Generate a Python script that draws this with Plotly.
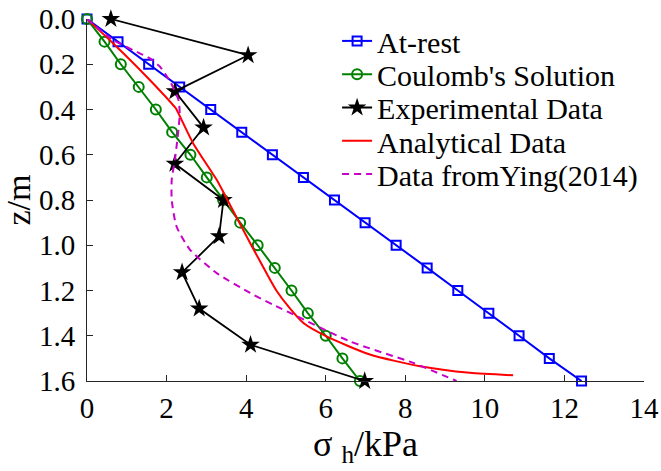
import plotly.graph_objects as go

# Depth levels (m)
z_rest = [0.0, 0.1, 0.2, 0.3, 0.4, 0.5, 0.6, 0.7, 0.8, 0.9, 1.0, 1.1, 1.2, 1.3, 1.4, 1.5, 1.6]
z_exp = [0.0, 0.16, 0.32, 0.48, 0.64, 0.80, 0.96, 1.12, 1.28, 1.44, 1.60]

# Horizontal earth pressure (kPa)
at_rest = [0.0, 0.78, 1.55, 2.33, 3.11, 3.89, 4.66, 5.44, 6.22, 6.99, 7.77, 8.55, 9.32, 10.10, 10.86, 11.62, 12.43]
coulomb = [0.0, 0.44, 0.85, 1.30, 1.73, 2.14, 2.60, 3.01, 3.42, 3.85, 4.29, 4.72, 5.14, 5.55, 6.00, 6.42, 6.86]
experimental = [0.60, 4.05, 2.21, 2.93, 2.21, 3.43, 3.32, 2.39, 2.82, 4.11, 6.98]

analytical_x = [0.0, 0.66, 1.50, 2.21, 2.25, 2.67, 3.26, 3.53, 4.10, 4.51, 4.76, 5.08, 5.44, 6.02, 7.11, 8.37, 9.62, 10.71]
analytical_z = [0.0, 0.108, 0.255, 0.39, 0.40, 0.55, 0.711, 0.80, 0.99, 1.123, 1.20, 1.275, 1.344, 1.403, 1.483, 1.535, 1.564, 1.575]

ying_x = [0.0, 0.66, 1.41, 1.58, 1.83, 2.10, 2.30, 2.33, 2.28, 2.21, 2.13, 2.13, 2.25, 2.59, 3.26, 4.10, 4.68, 5.35, 6.61, 8.20, 9.29]
ying_z = [0.0, 0.093, 0.159, 0.174, 0.21, 0.28, 0.358, 0.42, 0.52, 0.62, 0.71, 0.80, 0.917, 1.02, 1.123, 1.211, 1.263, 1.32, 1.425, 1.52, 1.60]

x_ticks = [0, 2, 4, 6, 8, 10, 12, 14]
y_ticks = [0.0, 0.2, 0.4, 0.6, 0.8, 1.0, 1.2, 1.4, 1.6]

FONT = "Liberation Serif"
AXIS_COLOR = "#262626"

fig = go.Figure()

fig.add_trace(go.Scatter(
    x=at_rest, y=z_rest, name="At-rest", mode="lines+markers",
    line=dict(color="#0000FF", width=2),
    marker=dict(symbol="square-open", size=9, color="#0000FF", line=dict(width=2)),
    cliponaxis=False, legend="legend",
))
fig.add_trace(go.Scatter(
    x=coulomb, y=z_rest, name="Coulomb's Solution", mode="lines+markers",
    line=dict(color="#008000", width=2),
    marker=dict(symbol="circle-open", size=10, color="#008000", line=dict(width=2)),
    cliponaxis=False, legend="legend2",
))
fig.add_trace(go.Scatter(
    x=experimental, y=z_exp, name="Experimental Data", mode="lines+markers",
    line=dict(color="#000000", width=1.8),
    marker=dict(symbol="star", size=14, color="#000000"),
    cliponaxis=False, legend="legend3",
))
fig.add_trace(go.Scatter(
    x=analytical_x, y=analytical_z, name="Analytical Data", mode="lines",
    line=dict(color="#FF0000", width=2, shape="spline", smoothing=0.6),
    cliponaxis=False, legend="legend4",
))
fig.add_trace(go.Scatter(
    x=ying_x, y=ying_z, name="Data fromYing(2014)", mode="lines",
    line=dict(color="#C800C8", width=2, dash="7px,5px", shape="spline", smoothing=0.6),
    cliponaxis=False, legend="legend5",
))

# one single-entry legend per series keeps the rows tightly spaced
legend_rows = [0.9395, 0.8475, 0.7555, 0.6635, 0.5715]
legend_common = dict(
    x=0.4490, xanchor="left", yanchor="middle",
    font=dict(family=FONT, size=30, color="#000000"),
    bgcolor="rgba(0,0,0,0)", borderwidth=0,
)
legend_layout = {}
for i, yy in enumerate(legend_rows):
    key = "legend" if i == 0 else f"legend{i + 1}"
    legend_layout[key] = dict(legend_common, y=yy)

fig.update_layout(
    template="none",
    width=661, height=471,
    margin=dict(l=87, r=17, t=19, b=90, autoexpand=False),
    paper_bgcolor="white", plot_bgcolor="white",
    font=dict(family=FONT, color="#000000"),
    showlegend=True,
    **legend_layout,
)

fig.update_xaxes(
    range=[0, 14], tickvals=x_ticks, ticktext=[str(v) for v in x_ticks],
    automargin=False, showgrid=False, zeroline=False,
    showline=True, linecolor=AXIS_COLOR, linewidth=1,
    ticks="inside", ticklen=6, tickcolor=AXIS_COLOR, tickwidth=1,
    tickfont=dict(family=FONT, size=29, color="#000000"),
    ticklabelstandoff=1,
    title=dict(text="σ <sub>h</sub>/kPa", font=dict(family=FONT, size=36), standoff=0),
)
fig.update_yaxes(
    range=[1.6, 0], tickvals=y_ticks, ticktext=[f"{v:.1f}" for v in y_ticks],
    automargin=False, showgrid=False, zeroline=False,
    showline=True, linecolor=AXIS_COLOR, linewidth=1,
    ticks="inside", ticklen=6, tickcolor=AXIS_COLOR, tickwidth=1,
    tickfont=dict(family=FONT, size=29, color="#000000"),
    ticklabelstandoff=5,
    title=dict(text="z/m", font=dict(family=FONT, size=34), standoff=4),
)

fig.write_html("out.html")
